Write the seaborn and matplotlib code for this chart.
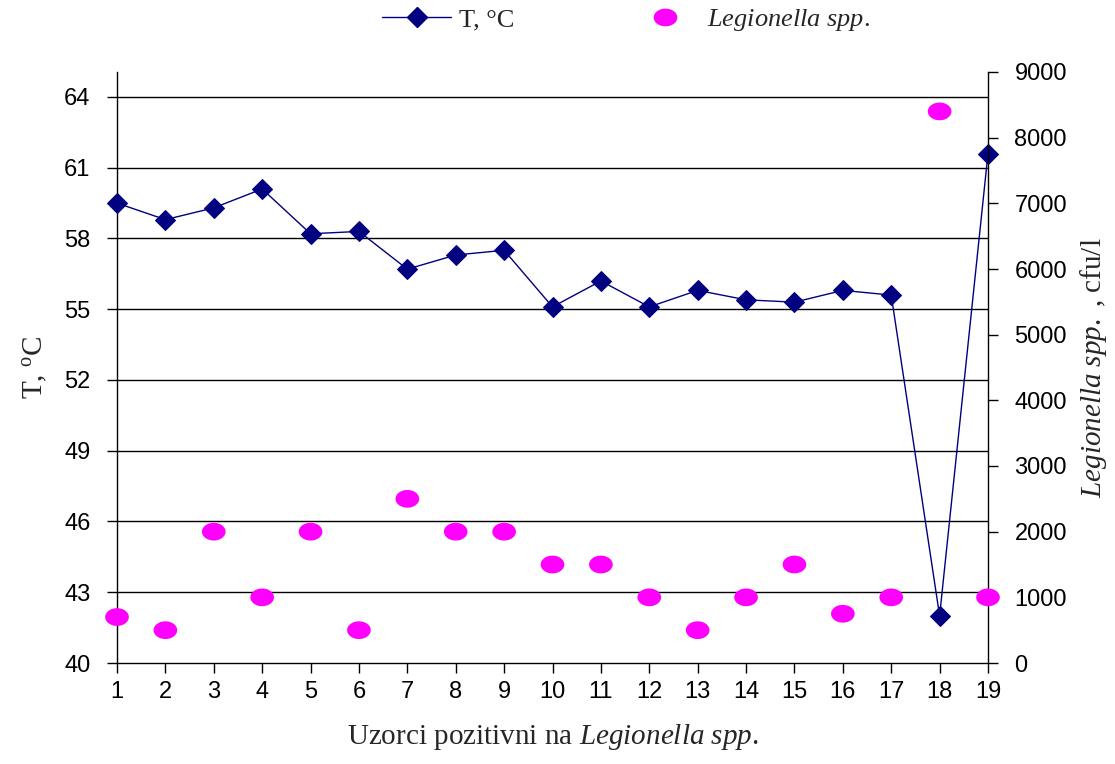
import numpy as np
import pandas as pd
import matplotlib
matplotlib.use("Agg")
import matplotlib.pyplot as plt
from matplotlib.path import Path
from matplotlib.lines import Line2D
import seaborn as sns

# ---- data ----
samples = list(range(1, 20))
temperature = [59.5, 58.8, 59.3, 60.1, 58.2, 58.3, 56.7, 57.3, 57.5, 55.1,
               56.2, 55.1, 55.8, 55.4, 55.3, 55.8, 55.6, 42.0, 61.6]
legionella = [700, 500, 2000, 1000, 2000, 500, 2500, 2000, 2000, 1500,
              1500, 1000, 500, 1000, 1500, 750, 1000, 8400, 1000]
left_ticks = [40, 43, 46, 49, 52, 55, 58, 61, 64]
right_ticks = [0, 1000, 2000, 3000, 4000, 5000, 6000, 7000, 8000, 9000]

df = pd.DataFrame({"sample": samples, "T": temperature, "L": legionella})

sns.set_style("white")
plt.rcParams["font.family"] = ["Liberation Sans", "DejaVu Sans"]
plt.rcParams["mathtext.fontset"] = "custom"
plt.rcParams["mathtext.rm"] = "Liberation Serif"
plt.rcParams["mathtext.it"] = "Liberation Serif:italic"

SERIF = ["Liberation Serif", "DejaVu Serif"]
navy = "#000080"
pink = "#FF00FF"

fig = plt.figure(figsize=(11.15, 7.64), dpi=100)
ax = fig.add_axes([117/1115, 1 - 663/764, (988-117)/1115, (663-72)/764])
ax2 = ax.twinx()

# temperature line
sns.lineplot(data=df, x="sample", y="T", ax=ax, color=navy, linewidth=1.0,
             marker="D", markersize=10.5, markeredgecolor=navy,
             markerfacecolor=navy, clip_on=False, zorder=3, legend=False)

# legionella dots (elliptical marker)
th = np.linspace(0, 2*np.pi, 60)
ell = Path(np.column_stack([np.cos(th), 0.75*np.sin(th)]), closed=True)
sns.scatterplot(data=df, x="sample", y="L", ax=ax2, color=pink, marker=ell,
                s=290, edgecolor="none", clip_on=False, zorder=3, legend=False)

ax.set_xlim(1, 19)
ax.set_ylim(40, 65.06)
ax2.set_ylim(0, 9000)
ax.set_xticks(samples)
ax.set_xticklabels([str(s) for s in samples])
ax.set_yticks(left_ticks)
ax2.set_yticks(right_ticks)

for y in left_ticks[1:]:
    ax.axhline(y, color="black", linewidth=1.0, zorder=1)

for a in (ax, ax2):
    a.spines["top"].set_visible(False)
    for s in ("left", "right", "bottom"):
        a.spines[s].set_color("black")
        a.spines[s].set_linewidth(1.0)
ax.spines["right"].set_visible(False)
ax2.spines["left"].set_visible(False)
ax2.spines["bottom"].set_visible(False)

ax.tick_params(axis="both", direction="out", length=7, width=1, colors="black",
               labelsize=17, left=True, bottom=True)
ax2.tick_params(axis="y", direction="out", length=7, width=1, colors="black",
                labelsize=17, right=True, pad=12)
ax.tick_params(axis="y", pad=12)
ax.tick_params(axis="x", pad=6)

ax.set_xlabel(r"Uzorci pozitivni na $\mathit{Legionella\ spp}$.",
              fontfamily=SERIF, fontsize=21, labelpad=14)
ax.set_ylabel(r"T, $^{\mathrm{o}}$C", fontfamily=SERIF, fontsize=21, labelpad=10)
ax2.set_ylabel(r"$\mathit{Legionella\ spp.}$ , cfu/l", fontfamily=SERIF,
               fontsize=21, labelpad=8, rotation=90)

handles = [
    Line2D([], [], color=navy, linewidth=1.0, marker="D", markersize=10.5,
           markerfacecolor=navy, markeredgecolor=navy),
    Line2D([], [], color=pink, linestyle="none", marker=ell, markersize=17,
           markeredgecolor="none", markerfacecolor=pink),
]
fig.legend(handles, [r"T, °C", r"$\mathit{Legionella\ spp.}$"],
           loc="center", bbox_to_anchor=(626/1115, 1 - 20/764), ncol=2,
           frameon=False, handlelength=2.6, handletextpad=0.3,
           columnspacing=4.4, prop={"family": SERIF, "size": 19})

fig.savefig("out.png", dpi=100)
